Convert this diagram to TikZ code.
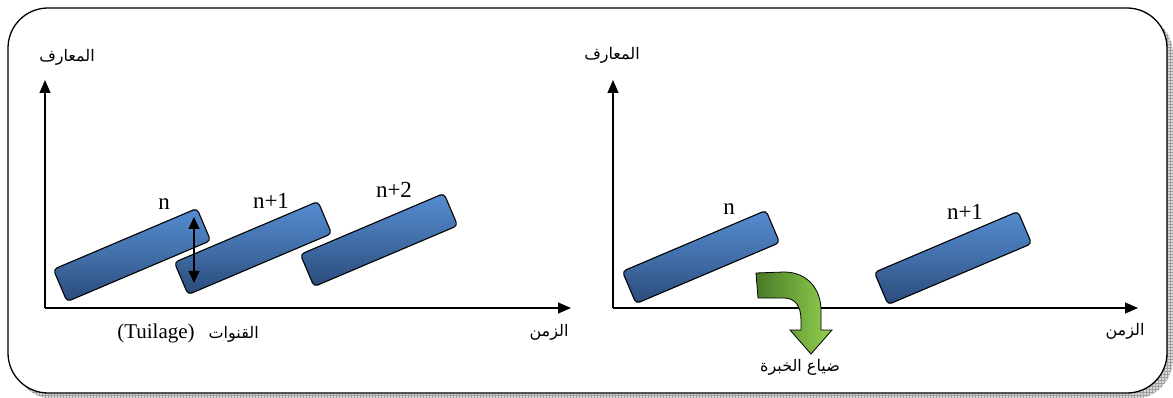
\documentclass[tikz,border=0pt]{standalone}
\usepackage{fontspec}
\setmainfont{Liberation Serif}
\newfontfamily\arabicfont[Script=Arabic]{DejaVu Sans}
\TeXXeTstate=1
\usetikzlibrary{arrows.meta,patterns}
\definecolor{boxtop}{HTML}{558CD0}
\definecolor{boxbot}{HTML}{2A4B7A}
\definecolor{gdark}{HTML}{4A7A26}
\definecolor{glight}{HTML}{92D050}
\tikzset{
  blockbox/.style={draw=black, line width=1.1pt, rounded corners=4pt,
    top color=boxtop, bottom color=boxbot, middle color=boxtop!55!boxbot,
    minimum width=156pt, minimum height=35pt, inner sep=0pt, rotate=23},
  axis/.style={line width=1.2pt, -{Triangle[length=13pt,width=11pt]}},
  dbl/.style={line width=1.2pt, {Triangle[length=12pt,width=11pt]}-{Triangle[length=12pt,width=11pt]}},
  lat/.style={font=\fontsize{23}{23}\selectfont, inner sep=0pt},
  arab/.style={font=\arabicfont\fontsize{16}{16}\selectfont, inner sep=0pt},
}
\begin{document}
\begin{tikzpicture}[x=1pt,y=-1pt]
\useasboundingbox (0,0) rectangle (1173,398);
% shadow
\fill[gray!30, rounded corners=40pt] (14,14) rectangle (1173,399);
\fill[pattern=grid, pattern color=gray!75, rounded corners=40pt] (14,14) rectangle (1173,399);
% frame
\draw[fill=white, line width=1.3pt, rounded corners=40pt] (8,8) rectangle (1167,393);

% ---------- left panel ----------
\coordinate (O1) at (45,308);
\coordinate (Y1) at (45,80);
\coordinate (X1) at (571,308);
\draw[axis] (O1) -- (Y1);
\draw[axis] (O1) -- (X1);
\node[arab] (ya1) at (67,57) {\beginR المعارف\endR};
\node[arab] (xa1) at (549,332) {\beginR الزمن\endR};
\node[lat, font=\fontsize{21}{21}\selectfont] (tl) at (188,333) {(Tuilage)\hspace{14pt}{\arabicfont\fontsize{16}{16}\selectfont\beginR القنوات\endR}};

\node[blockbox] (b1) at (132,255) {};
\node[blockbox] (b2) at (253,248) {};
\node[blockbox] (b3) at (379,240) {};
\node[lat] (l1) at (164,204) {n};
\node[lat] (l2) at (271,201) {n+1};
\node[lat] (l3) at (394,190) {n+2};
\coordinate (da) at (194,217);
\coordinate (db) at (194,283);
\draw[dbl] (da) -- (db);

% ---------- right panel ----------
\coordinate (O2) at (613,308);
\coordinate (Y2) at (613,80);
\coordinate (X2) at (1138,308);
\draw[axis] (O2) -- (Y2);
\draw[axis] (O2) -- (X2);
\node[arab] (ya2) at (612,55) {\beginR المعارف\endR};
\node[arab] (xa2) at (1125,331) {\beginR الزمن\endR};

\node[blockbox] (r1) at (701,257) {};
\node[blockbox] (r2) at (953,258) {};
\node[lat] (rl1) at (729,209) {n};
\node[lat] (rl2) at (965,212) {n+1};

% green curved arrow
\draw[line width=0.8pt, left color=gdark, right color=glight]
  (756,273) -- (784,272) .. controls (808,272) and (821,290) .. (821,310)
  -- (821,330) -- (832,330) -- (811,354) -- (790,330) -- (801,330)
  -- (801,320) .. controls (801,306) and (795,298) .. (784,298)
  -- (758,298) -- cycle;
\node[arab] (loss) at (800,367) {\beginR ضياع الخبرة\endR};
\end{tikzpicture}
\end{document}
